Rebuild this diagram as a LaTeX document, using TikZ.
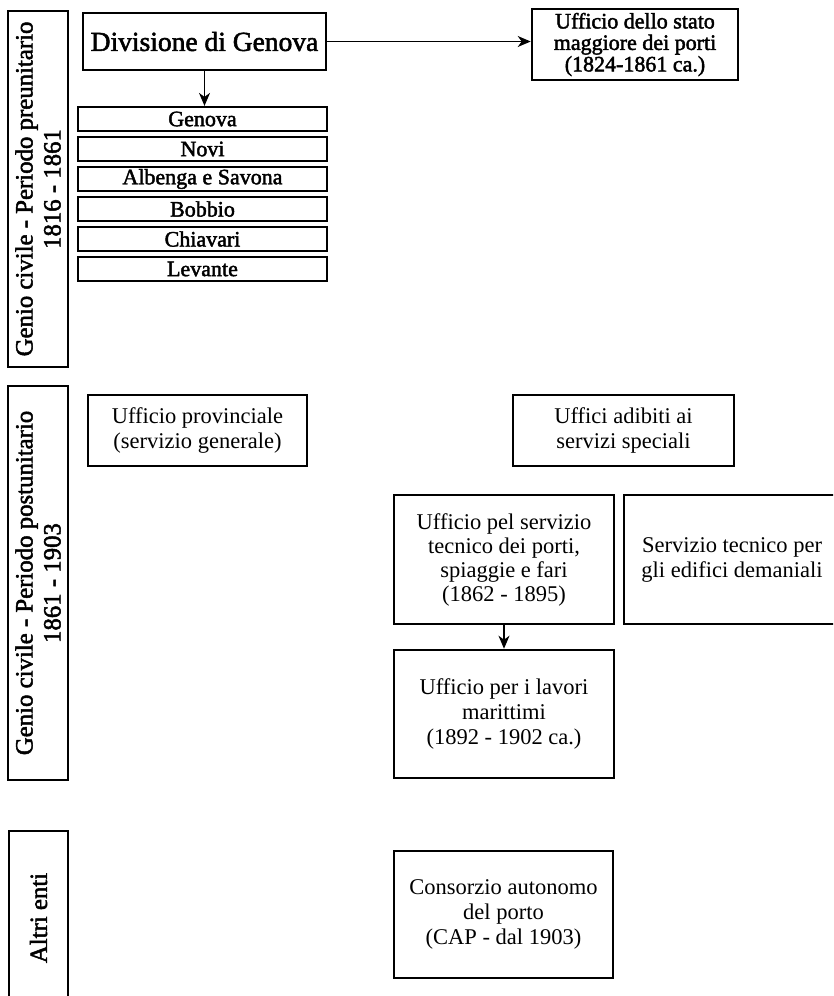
\documentclass[tikz,border=0pt]{standalone}
\usepackage{fontspec}
\setmainfont{Liberation Serif}
\newfontfamily\heavyfont[FakeBold=2]{Liberation Serif}
\usetikzlibrary{arrows.meta}
\begin{document}
\begin{tikzpicture}[x=1pt, y=-1pt,
        box/.style={draw, line width=2.6pt, inner sep=0pt, align=center, font=\fontsize{22.5}{25}\selectfont},
        subbox/.style={box, line width=2.2pt, minimum width=249pt, minimum height=24pt, font=\heavyfont\fontsize{22}{24}\selectfont},
        period/.style={box, rotate=90, line width=2.8pt, font=\heavyfont\fontsize{24.8}{28}\selectfont},
        link/.style={line width=1.5pt, -{Stealth[length=13pt, width=11pt, inset=4pt]}}]
        \useasboundingbox (0,0) rectangle (833,996);
        \clip (0,0) rectangle (833,996);

        \node[period, minimum width=356pt, minimum height=60pt] (pre) at (38,189) {Genio civile - Periodo preunitario\\1816 - 1861};
        \node[period, minimum width=394pt, minimum height=60pt] (post) at (38,583) {Genio civile - Periodo postunitario\\1861 - 1903};
        \node[period, minimum width=174pt, minimum height=59pt] (altri) at (38.5,918) {Altri enti};

        \node[box, minimum width=243pt, minimum height=57pt, font=\heavyfont\fontsize{27.5}{30}\selectfont] (div) at (204.5,41.5) {Divisione di Genova};
        \foreach \name/\txt [count=\i] in {gen/Genova, novi/Novi, alb/Albenga e Savona, bob/Bobbio, chi/Chiavari, lev/Levante}
            \node[subbox] (\name) at (202.5,89+30*\i) {\txt};
        \node[box, minimum width=206pt, minimum height=71pt, font=\heavyfont\fontsize{22}{21.5}\selectfont] (stato) at (635,44.5) {Ufficio dello stato\\maggiore dei porti\\(1824-1861 ca.)};

        \node[box, minimum width=219pt, minimum height=71pt] (prov) at (197.5,430.5) {Ufficio provinciale\\(servizio generale)};
        \node[box, minimum width=221pt, minimum height=71pt] (spec) at (623.5,430.5) {Uffici adibiti ai\\servizi speciali};
        \node[box, minimum width=220pt, minimum height=129pt, font=\fontsize{22.5}{24}\selectfont] (pel) at (504,559.5) {Ufficio pel servizio\\tecnico dei porti,\\spiaggie e fari\\(1862 - 1895)};
        \node[box, minimum width=216pt, minimum height=129pt] (dem) at (732,559.5) {Servizio tecnico per\\gli edifici demaniali};
        \node[box, minimum width=220pt, minimum height=128pt] (lav) at (504,714) {Ufficio per i lavori\\marittimi\\(1892 - 1902 ca.)};

        \node[box, minimum width=219pt, minimum height=127pt] (cap) at (503.5,914.5) {Consorzio autonomo\\del porto\\(CAP - dal 1903)};

        \draw[link] (div.south) -- (div.south |- gen.north);
        \draw[link] (div.east) -- (div.east -| stato.west);
        \draw[link] (pel.south) -- (lav.north);
    \end{tikzpicture}
\end{document}
